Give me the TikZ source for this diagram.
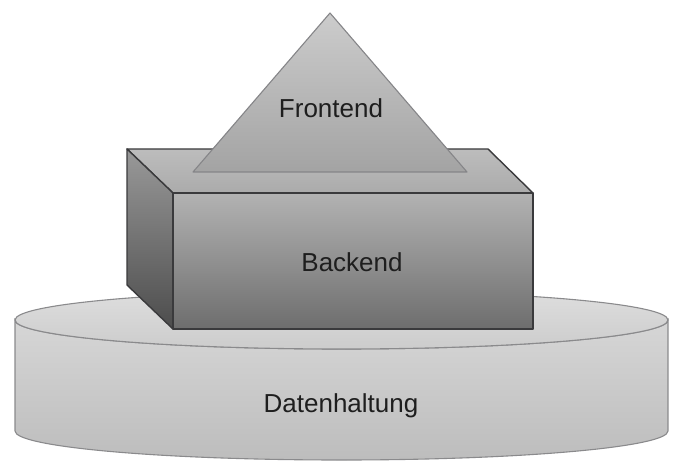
\documentclass[tikz,border=0pt]{standalone}
\usepackage{fontspec}
\setmainfont{Liberation Sans}
\definecolor{cylline}{HTML}{8A8A8C}
\definecolor{boxline}{HTML}{3A3A3C}
\definecolor{triline}{HTML}{858588}
\definecolor{txt}{HTML}{1E1E1E}
\tikzset{
  lbl/.style={anchor=base, text=txt, font=\fontsize{26}{30}\selectfont, inner sep=0pt},
  cylside/.style={draw=cylline, line width=1.1pt, top color=black!16, bottom color=black!26},
  cyltop/.style={draw=cylline, line width=1.1pt, top color=black!13, bottom color=black!20},
  boxfront/.style={draw=boxline, line width=1.4pt, line join=round, top color=black!30, bottom color=black!57},
  boxtop/.style={draw=boxline, line width=1.4pt, line join=round, top color=black!26, bottom color=black!33},
  boxleft/.style={draw=boxline, line width=1.4pt, line join=round, top color=black!40, bottom color=black!70},
  tri/.style={draw=triline, line width=1.1pt, line join=round, top color=black!20, bottom color=black!36}
}
\begin{document}
\begin{tikzpicture}[x=1pt,y=-1pt]
\useasboundingbox (0,0) rectangle (679,462);
% cylinder
\coordinate (cTL) at (15,320);
\coordinate (cTR) at (668,320);
\coordinate (cBL) at (15,431);
\coordinate (cTC) at (341.5,320);
\path[cylside] (cTL) -- (cBL) arc[start angle=180, end angle=0, x radius=326.5, y radius=29] -- (cTR) arc[start angle=0, end angle=180, x radius=326.5, y radius=29] -- cycle;
\path[cyltop] (cTC) ellipse[x radius=326.5, y radius=29];
% box
\coordinate (A) at (127,149);
\coordinate (B) at (488,149);
\coordinate (C) at (173,193);
\coordinate (D) at (533,193);
\coordinate (E) at (173,329);
\coordinate (F) at (533,329);
\coordinate (G) at (127,285);
\path[boxtop] (A) -- (B) -- (D) -- (C) -- cycle;
\path[boxleft] (A) -- (C) -- (E) -- (G) -- cycle;
% triangle
\coordinate (T1) at (330,13);
\coordinate (T2) at (467,172);
\coordinate (T3) at (193,172);
\path[tri] (T1) -- (T2) -- (T3) -- cycle;
\path[boxfront] (C) -- (D) -- (F) -- (E) -- cycle;
% labels
\node[lbl] (fe) at (331,118) {Frontend};
\node[lbl] (be) at (352,271) {Backend};
\node[lbl] (dh) at (341,412) {Datenhaltung};
\end{tikzpicture}
\end{document}
